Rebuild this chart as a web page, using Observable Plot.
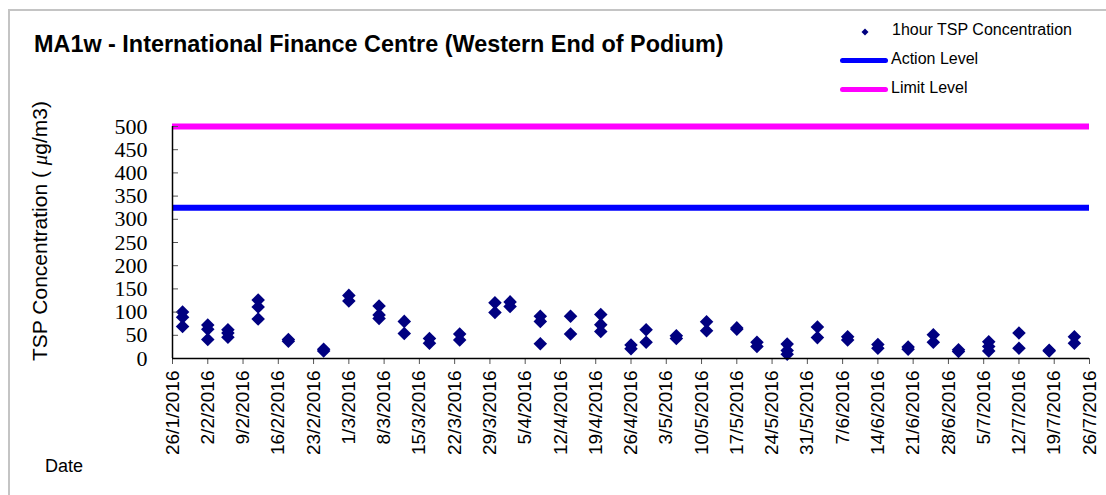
<!DOCTYPE html>
<html>
<head>
<meta charset="utf-8">
<script src="https://cdn.jsdelivr.net/npm/d3@7"></script>
<script src="https://cdn.jsdelivr.net/npm/@observablehq/plot@0.6"></script>
<style>
  html, body { margin: 0; padding: 0; background: #fff; }
  #wrap { position: relative; width: 1106px; height: 495px; overflow: hidden; font-family: Arial, "Liberation Sans", sans-serif; }
  #frame { position: absolute; left: 8px; top: 9px; width: 1200px; height: 600px; border-left: 2px solid #c4c4c4; border-top: 2px solid #c4c4c4; box-sizing: border-box; }
  #chart { position: absolute; left: 0; top: 0; }
  .title { position: absolute; left: 34px; top: 31px; font-weight: bold; font-size: 23.4px; color: #000; white-space: nowrap; }
  .ylab { position: absolute; left: 40px; top: 231px; transform: translate(-50%, -50%) rotate(-90deg); font-size: 21px; white-space: nowrap; color: #000; }
  .xlab { position: absolute; left: 45px; top: 456px; font-size: 18px; color: #000; }
  .leg { position: absolute; font-size: 16px; white-space: nowrap; color: #000; }
  .legline { position: absolute; height: 5px; border-radius: 3px; }
  #chart g[aria-label="y-axis tick label"] text { font-family: "Liberation Serif", "Times New Roman", serif; }
  #chart g[aria-label="x-axis tick label"] text { font-family: Arial, "Liberation Sans", sans-serif; }
</style>
</head>
<body>
<div id="wrap">
  <div id="frame"></div>
  <div id="chart"></div>
  <div class="title">MA1w - International Finance Centre (Western End of Podium)</div>
  <div class="ylab">TSP Concentration ( <span style="font-family:'Liberation Serif',serif;font-style:italic">μ</span>g/m3)</div>
  <div class="xlab">Date</div>
  <svg style="position:absolute;left:860px;top:27px" width="10" height="10"><polygon points="5,1.5 8.5,5 5,8.5 1.5,5" fill="#000080"/></svg>
  <div class="leg" style="left:892px;top:21px">1hour TSP Concentration</div>
  <div class="legline" style="left:840px;top:58px;width:48px;background:#0000ff"></div>
  <div class="leg" style="left:891px;top:50px">Action Level</div>
  <div class="legline" style="left:840px;top:87px;width:48px;background:#ff00ff"></div>
  <div class="leg" style="left:891px;top:79px">Limit Level</div>
</div>
<script>
// Sampling dates (d/m/yyyy) and 1-hour TSP values (µg/m3)
const sampleDates = [
  "28/1/2016","28/1/2016","28/1/2016",
  "2/2/2016","2/2/2016","2/2/2016",
  "6/2/2016","6/2/2016","6/2/2016",
  "12/2/2016","12/2/2016","12/2/2016",
  "18/2/2016","18/2/2016",
  "25/2/2016","25/2/2016",
  "1/3/2016","1/3/2016",
  "7/3/2016","7/3/2016","7/3/2016",
  "12/3/2016","12/3/2016",
  "17/3/2016","17/3/2016",
  "23/3/2016","23/3/2016",
  "30/3/2016","30/3/2016",
  "2/4/2016","2/4/2016",
  "8/4/2016","8/4/2016","8/4/2016",
  "14/4/2016","14/4/2016",
  "20/4/2016","20/4/2016","20/4/2016",
  "26/4/2016","26/4/2016",
  "29/4/2016","29/4/2016",
  "5/5/2016","5/5/2016",
  "11/5/2016","11/5/2016",
  "17/5/2016","17/5/2016",
  "21/5/2016","21/5/2016",
  "27/5/2016","27/5/2016","27/5/2016",
  "2/6/2016","2/6/2016",
  "8/6/2016","8/6/2016",
  "14/6/2016","14/6/2016",
  "20/6/2016","20/6/2016",
  "25/6/2016","25/6/2016",
  "30/6/2016","30/6/2016",
  "6/7/2016","6/7/2016","6/7/2016",
  "12/7/2016","12/7/2016",
  "18/7/2016","18/7/2016",
  "23/7/2016","23/7/2016"
];
const tspValues = [
  100, 89, 69,
  72, 63, 41,
  62, 55, 46,
  126, 111, 85,
  41, 37,
  20, 16,
  136, 124,
  113, 94, 86,
  80, 54,
  43, 33,
  53, 40,
  120, 99,
  122, 112,
  91, 80, 32,
  91, 53,
  95, 73, 58,
  29, 21,
  62, 35,
  49, 43,
  79, 60,
  66, 63,
  35, 26,
  31, 17, 9,
  68, 45,
  47, 40,
  30, 22,
  25, 20,
  51, 35,
  19, 15,
  36, 26, 16,
  55, 22,
  18, 16,
  47, 33
];
const actionLevel = 325;
const limitLevel = 500;
const xTickLabels = [
  "26/1/2016","2/2/2016","9/2/2016","16/2/2016","23/2/2016","1/3/2016","8/3/2016",
  "15/3/2016","22/3/2016","29/3/2016","5/4/2016","12/4/2016","19/4/2016","26/4/2016",
  "3/5/2016","10/5/2016","17/5/2016","24/5/2016","31/5/2016","7/6/2016","14/6/2016",
  "21/6/2016","28/6/2016","5/7/2016","12/7/2016","19/7/2016","26/7/2016"
];
const yTicks = [0, 50, 100, 150, 200, 250, 300, 350, 400, 450, 500];

const parseD = d3.utcParse("%d/%m/%Y");
const fmtD = d3.utcFormat("%-d/%-m/%Y");
const points = sampleDates.map((d, i) => ({date: parseD(d), value: tspValues[i]}));
const xTicks = xTickLabels.map(parseD);

const chart = Plot.plot({
  width: 1106,
  height: 495,
  marginLeft: 172,
  marginRight: 17,
  marginTop: 126,
  marginBottom: 137,
  style: {background: "transparent", color: "#000"},
  x: {type: "utc", domain: [xTicks[0], xTicks[xTicks.length - 1]]},
  y: {domain: [0, 500]},
  marks: [
    Plot.ruleY([limitLevel], {stroke: "#ff00ff", strokeWidth: 6}),
    Plot.ruleY([actionLevel], {stroke: "#0000ff", strokeWidth: 6}),
    Plot.dot(points, {x: "date", y: "value", symbol: "diamond2", r: 6.1, fill: "#000080", stroke: "none"}),
    Plot.axisY({ticks: yTicks, tickSize: -6, tickPadding: 31, fontSize: 22, label: null, stroke: "#555"}),
    Plot.axisX({ticks: xTicks, tickFormat: fmtD, tickRotate: -90, tickSize: 6, tickPadding: 6, fontSize: 19, label: null, stroke: "#555"}),
    Plot.ruleY([0], {stroke: "#000", strokeWidth: 1.5}),
    Plot.ruleX([xTicks[0]], {stroke: "#000", strokeWidth: 1.5})
  ]
});
document.getElementById("chart").appendChild(chart);
</script>
</body>
</html>
